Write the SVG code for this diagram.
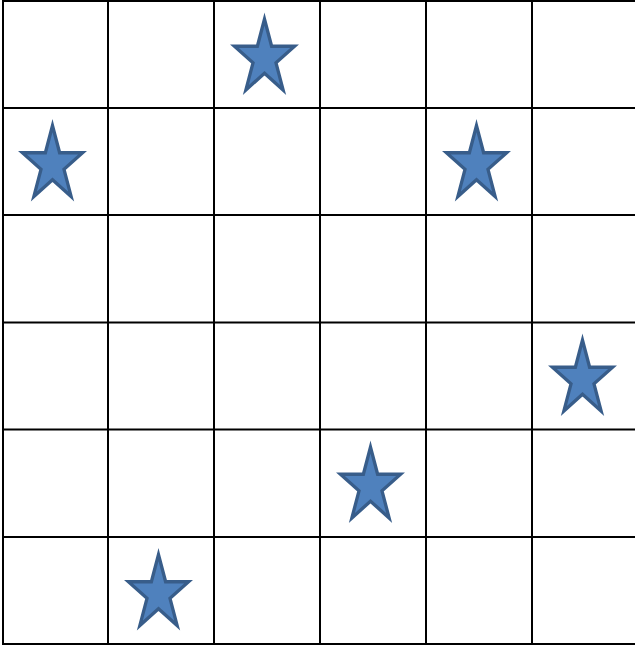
<svg xmlns="http://www.w3.org/2000/svg" xmlns:xlink="http://www.w3.org/1999/xlink" width="635" height="645" viewBox="0 0 635 645">
<style>
.grid line{stroke:#000;stroke-width:2}
.star{fill:#4f81bd;stroke:#385d8a;stroke-width:3.5;stroke-linejoin:miter;stroke-miterlimit:10}
</style>
<defs>
<path id="star" class="star" transform="scale(0.95)" d="M0,-37.3 L7.5,-8.7 L31.7,-8.7 L12.1,8.8 L19.6,37.3 L0,19.7 L-19.6,37.3 L-12.1,8.8 L-31.7,-8.7 L-7.5,-8.7 Z"/>
</defs>
<rect width="635" height="645" fill="#fff"/>
<g id="grid" class="grid">
<line x1="3" y1="0" x2="3" y2="645"/>
<line x1="108" y1="0" x2="108" y2="645"/>
<line x1="214" y1="0" x2="214" y2="645"/>
<line x1="320" y1="0" x2="320" y2="645"/>
<line x1="426" y1="0" x2="426" y2="645"/>
<line x1="532" y1="0" x2="532" y2="645"/>
<line x1="2" y1="1" x2="635" y2="1"/>
<line x1="2" y1="108" x2="635" y2="108"/>
<line x1="2" y1="215" x2="635" y2="215"/>
<line x1="2" y1="322.5" x2="635" y2="322.5"/>
<line x1="2" y1="429.5" x2="635" y2="429.5"/>
<line x1="2" y1="537" x2="635" y2="537"/>
<line x1="2" y1="644" x2="635" y2="644"/>
</g>
<g id="star-r0c2"><use xlink:href="#star" href="#star" x="264.5" y="54.5"/></g>
<g id="star-r1c0"><use xlink:href="#star" href="#star" x="52.5" y="161"/></g>
<g id="star-r1c4"><use xlink:href="#star" href="#star" x="476.5" y="161"/></g>
<g id="star-r3c5"><use xlink:href="#star" href="#star" x="582.5" y="375.5"/></g>
<g id="star-r4c3"><use xlink:href="#star" href="#star" x="370.5" y="482.5"/></g>
<g id="star-r5c1"><use xlink:href="#star" href="#star" x="158.5" y="590"/></g>
</svg>
